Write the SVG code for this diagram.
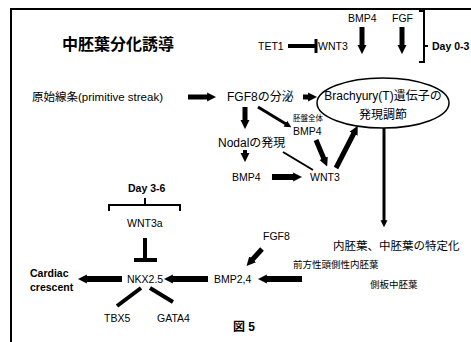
<svg xmlns="http://www.w3.org/2000/svg" width="471" height="342" viewBox="0 0 471 342">
<style>
text{font-family:"Liberation Sans","Noto Sans CJK JP",sans-serif;font-size:10.5px;fill:#000}
.j{font-size:12px}
.b{font-weight:bold}
.sm{font-size:9.5px}
.xs{font-size:7.5px}
.c{text-anchor:middle}
.a{fill:none;stroke:#000;stroke-width:5;marker-end:url(#h)}
.a3{fill:none;stroke:#000;stroke-width:3;marker-end:url(#hs)}
.ln{fill:none;stroke:#000}
</style>
<defs>
<marker id="h" markerUnits="userSpaceOnUse" viewBox="0 0 10 10" markerWidth="9" markerHeight="12" refX="1" refY="5" orient="auto"><path d="M0,0 L10,5 L0,10 z"/></marker>
<marker id="hs" markerUnits="userSpaceOnUse" viewBox="0 0 10 10" markerWidth="7" markerHeight="8" refX="1" refY="5" orient="auto"><path d="M0,0 L10,5 L0,10 z"/></marker>
</defs>
<rect width="471" height="342" fill="#fff"/>
<path d="M11,342 V9 H471" fill="none" stroke="#000" stroke-width="2"/>
<text x="62" y="50" class="b" style="font-size:16px">中胚葉分化誘導</text>

<g id="connectors">
<path class="a" d="M188,97 H208"/>
<path class="a" d="M303,97 H309"/>
<path class="a" d="M362,27 V46"/>
<path class="a" d="M402,27 V46"/>
<path class="a" d="M245,107 V121"/>
<path class="a3" d="M258,107 L286,124"/>
<path class="a" d="M245,150 V154" style="stroke-width:4"/>
<path class="a" d="M272,177 H294" style="stroke-width:6"/>
<path class="a" d="M316,140 L324,159"/>
<path class="a" d="M336,168 L354,133"/>
<path class="a3" d="M384,128 V221"/>
<path class="a" d="M262,249 L252,260"/>
<path class="a" d="M302,279 H266" style="stroke-width:6"/>
<path class="a" d="M208,279 H172" style="stroke-width:6"/>
<path class="a" d="M122,279 H86" style="stroke-width:6"/>
<path class="ln" d="M288,46 H315" stroke-width="4"/>
<path class="ln" d="M316,39 V53" stroke-width="3"/>
<path class="ln" d="M145,238 V260" stroke-width="4"/>
<path class="ln" d="M134,260 H157" stroke-width="4"/>
<path class="ln" d="M141,288 L117,306" stroke-width="4"/>
<path class="ln" d="M150,288 L173,302" stroke-width="4"/>
<path class="ln" d="M283,152 L313,170" stroke-width="2"/>
<path class="ln" d="M419,11 H424 V62 H419 M424,46 H428" stroke-width="2"/>
<path class="ln" d="M109,211 V205 H180 V211 M145,205 V198" stroke-width="2"/>
</g>

<g id="tet1"><text x="258" y="50">TET1</text></g>
<g id="wnt3-top"><text x="318" y="50">WNT3</text></g>
<g id="bmp4-top"><text x="348" y="22">BMP4</text></g>
<g id="fgf-top"><text x="392" y="22">FGF</text></g>
<g id="day03"><text x="432" y="50" class="b">Day 0-3</text></g>
<g id="brachyury">
<ellipse cx="383" cy="103" rx="66" ry="25" fill="none" stroke="#000" stroke-width="1.5"/>
<text x="383" y="100" class="c j">Brachyury(T)遺伝子の</text>
<text x="383" y="119" class="c j">発現調節</text>
</g>
<g id="streak"><text x="32" y="101" style="font-size:11.5px">原始線条(primitive streak)</text></g>
<g id="fgf8-sec"><text x="227" y="101" class="j">FGF8の分泌</text></g>
<g id="bmp4-whole"><text x="293" y="121" class="xs">胚盤全体</text><text x="293" y="135">BMP4</text></g>
<g id="nodal"><text x="218" y="147" class="j">Nodalの発現</text></g>
<g id="bmp4-low"><text x="232" y="181">BMP4</text></g>
<g id="wnt3-low"><text x="310" y="181">WNT3</text></g>
<g id="spec"><text x="333" y="250" style="font-size:11.5px">内胚葉、中胚葉の特定化</text></g>
<g id="ant-endo"><text x="293" y="268" class="sm">前方性頭側性内胚葉</text></g>
<g id="lpm"><text x="370" y="288" class="sm">側板中胚葉</text></g>
<g id="fgf8-low"><text x="263" y="240">FGF8</text></g>
<g id="bmp24"><text x="214" y="283">BMP2,4</text></g>
<g id="day36"><text x="128" y="192" class="b">Day 3-6</text></g>
<g id="wnt3a"><text x="127" y="227">WNT3a</text></g>
<g id="nkx25"><text x="127" y="283">NKX2.5</text></g>
<g id="cardiac"><text x="30" y="277" class="b">Cardiac</text><text x="30" y="291" class="b">crescent</text></g>
<g id="tbx5"><text x="104" y="322">TBX5</text></g>
<g id="gata4"><text x="157" y="322">GATA4</text></g>
<g id="fig"><text x="233" y="331" class="b" style="font-size:12px">図 5</text></g>
</svg>
